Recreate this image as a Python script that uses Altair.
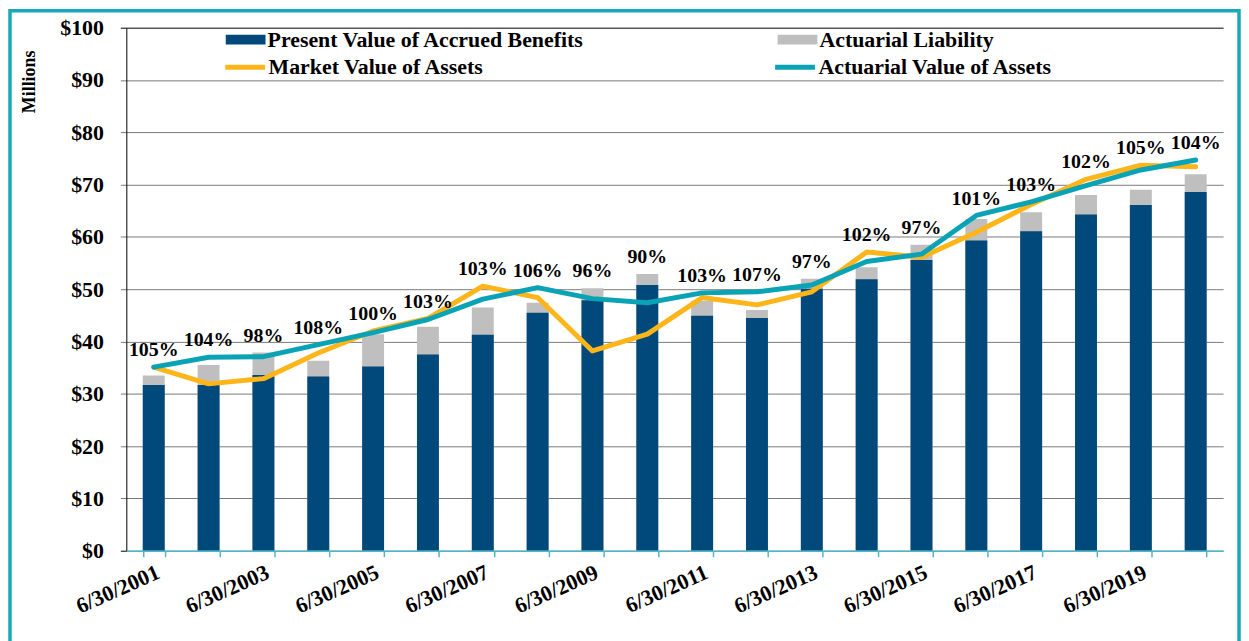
import altair as alt
import pandas as pd
import json

dates = ["6/30/2001", "6/30/2002", "6/30/2003", "6/30/2004", "6/30/2005",
         "6/30/2006", "6/30/2007", "6/30/2008", "6/30/2009", "6/30/2010",
         "6/30/2011", "6/30/2012", "6/30/2013", "6/30/2014", "6/30/2015",
         "6/30/2016", "6/30/2017", "6/30/2018", "6/30/2019", "6/30/2020"]
shown_labels = ["6/30/2001", "6/30/2003", "6/30/2005", "6/30/2007", "6/30/2009",
                "6/30/2011", "6/30/2013", "6/30/2015", "6/30/2017", "6/30/2019"]
pvab = [31.7, 31.7, 33.6, 33.3, 35.2, 37.5, 41.3, 45.5, 47.9, 50.8,
        44.9, 44.5, 50.1, 51.9, 55.6, 59.3, 61.1, 64.3, 66.1, 68.6]
al = [33.5, 35.5, 37.9, 36.3, 41.4, 42.8, 46.5, 47.4, 50.2, 52.9,
      47.8, 46.0, 52.0, 54.2, 58.5, 63.4, 64.7, 68.0, 69.0, 72.0]
mva = [35.1, 31.9, 32.9, 37.8, 42.0, 44.4, 50.6, 48.4, 38.2, 41.4,
       48.4, 47.0, 49.5, 57.1, 56.1, 60.9, 66.2, 71.0, 73.7, 73.4]
ava = [35.1, 37.0, 37.1, 39.4, 41.7, 44.2, 48.1, 50.3, 48.2, 47.4,
       49.3, 49.5, 50.8, 55.3, 56.7, 64.1, 66.7, 69.8, 72.8, 74.7]
ratio = ["105%", "104%", "98%", "108%", "100%", "103%", "103%", "106%", "96%", "90%",
         "103%", "107%", "97%", "102%", "97%", "101%", "103%", "102%", "105%", "104%"]

PVAB = "Present Value of Accrued Benefits"
AL = "Actuarial Liability"
MVA = "Market Value of Assets"
AVA = "Actuarial Value of Assets"

NAVY = "#00497A"
GRAY = "#BFBFBF"
ORANGE = "#FDB51A"
TEAL = "#0AA3B5"
AXTEAL = "#4BB8C8"
FRAME = "#17A9B8"
FONT = "Liberation Serif"

n = len(dates)
bars_df = pd.DataFrame({"date": dates * 2, "bseries": [AL] * n + [PVAB] * n, "value": al + pvab})
lines_df = pd.DataFrame({"date": dates * 2, "lseries": [MVA] * n + [AVA] * n, "value": mva + ava})
lab_df = pd.DataFrame({"date": dates, "ratio": ratio,
                       "value": [max(a, b, c) for a, b, c in zip(al, mva, ava)]})

x_enc = alt.X(
    "date:N", sort=dates, title=None,
    scale=alt.Scale(paddingInner=0.6, paddingOuter=0.3),
    axis=alt.Axis(
        labelExpr="indexof(" + json.dumps(shown_labels) + ", datum.value) >= 0 ? datum.label : ''",
        labelAngle=336, labelAlign="right", labelBaseline="top",
        labelFont=FONT, labelFontSize=22, labelFontWeight="bold", labelColor="black",
        labelPadding=5, labelOffset=0, labelOverlap=False,
        tickBand="extent", tickSize=6, tickColor=AXTEAL, tickWidth=1.5,
        domainColor=AXTEAL, domainWidth=1.5, grid=False, zindex=1,
    ),
)
y_enc = alt.Y(
    "value:Q", stack=None, title="Millions",
    scale=alt.Scale(domain=[0, 100]),
    axis=alt.Axis(
        values=list(range(0, 101, 10)), labelExpr="'$' + datum.value",
        labelFont=FONT, labelFontSize=22, labelFontWeight="bold", labelColor="black",
        labelPadding=17, tickSize=6,
        tickColor={"condition": {"test": "datum.value === 0 || datum.value === 100", "value": "black"},
                   "value": "#7a7a7a"},
        domainColor="black", domainWidth=1, gridWidth=1,
        gridColor={"condition": {"test": "datum.value === 100", "value": "black"},
                   "value": "#7a7a7a"},
        titleFont=FONT, titleFontSize=18, titleFontWeight="bold", titleColor="black",
        titleAngle=270, titleX=-97, titleY=54, titleAlign="center", titleBaseline="middle",
    ),
)

bars = alt.Chart(bars_df).mark_bar().encode(
    x=x_enc, y=y_enc,
    fill=alt.Fill(
        "bseries:N",
        scale=alt.Scale(domain=[PVAB, AL], range=[NAVY, GRAY]),
        legend=alt.Legend(
            title=None, orient="none", legendX=100, legendY=-8, direction="horizontal",
            columnPadding=194, symbolType="M-1,-0.25H1V0.25H-1Z", symbolSize=1600,
            symbolStrokeWidth=0, labelFont=FONT, labelFontSize=22, labelFontWeight="bold",
            labelColor="black", labelOffset=2, labelLimit=600,
        ),
    ),
)

lines = alt.Chart(lines_df).mark_line(strokeWidth=5, strokeCap="round", strokeJoin="round").encode(
    x=x_enc, y=y_enc,
    stroke=alt.Stroke(
        "lseries:N",
        scale=alt.Scale(domain=[MVA, AVA], range=[ORANGE, TEAL]),
        legend=alt.Legend(
            title=None, orient="none", legendX=97, legendY=17, direction="horizontal",
            columnPadding=281, symbolType="stroke", symbolSize=1600, symbolStrokeWidth=5,
            labelFont=FONT, labelFontSize=22, labelFontWeight="bold",
            labelColor="black", labelOffset=1, labelLimit=600,
        ),
    ),
)

labels = alt.Chart(lab_df).mark_text(
    dy=-17, font=FONT, fontSize=20, fontWeight="bold", color="black", baseline="middle"
).encode(x=x_enc, y=y_enc, text="ratio:N")

frame = alt.Chart(pd.DataFrame({"k": [0]})).mark_rect(
    fillOpacity=0, stroke=FRAME, strokeWidth=3.5, clip=False
).encode(x=alt.value(-117), x2=alt.value(1119), y=alt.value(-17), y2=alt.value(660))

chart = alt.layer(bars, lines, labels, frame).properties(
    width=1103, height=526,
    autosize=alt.AutoSizeParams(type="none"),
    padding={"left": 119, "top": 18, "right": 18, "bottom": 89},
).configure_view(strokeWidth=0)

chart.save("out.html", embed_options={"renderer": "svg", "actions": False})
